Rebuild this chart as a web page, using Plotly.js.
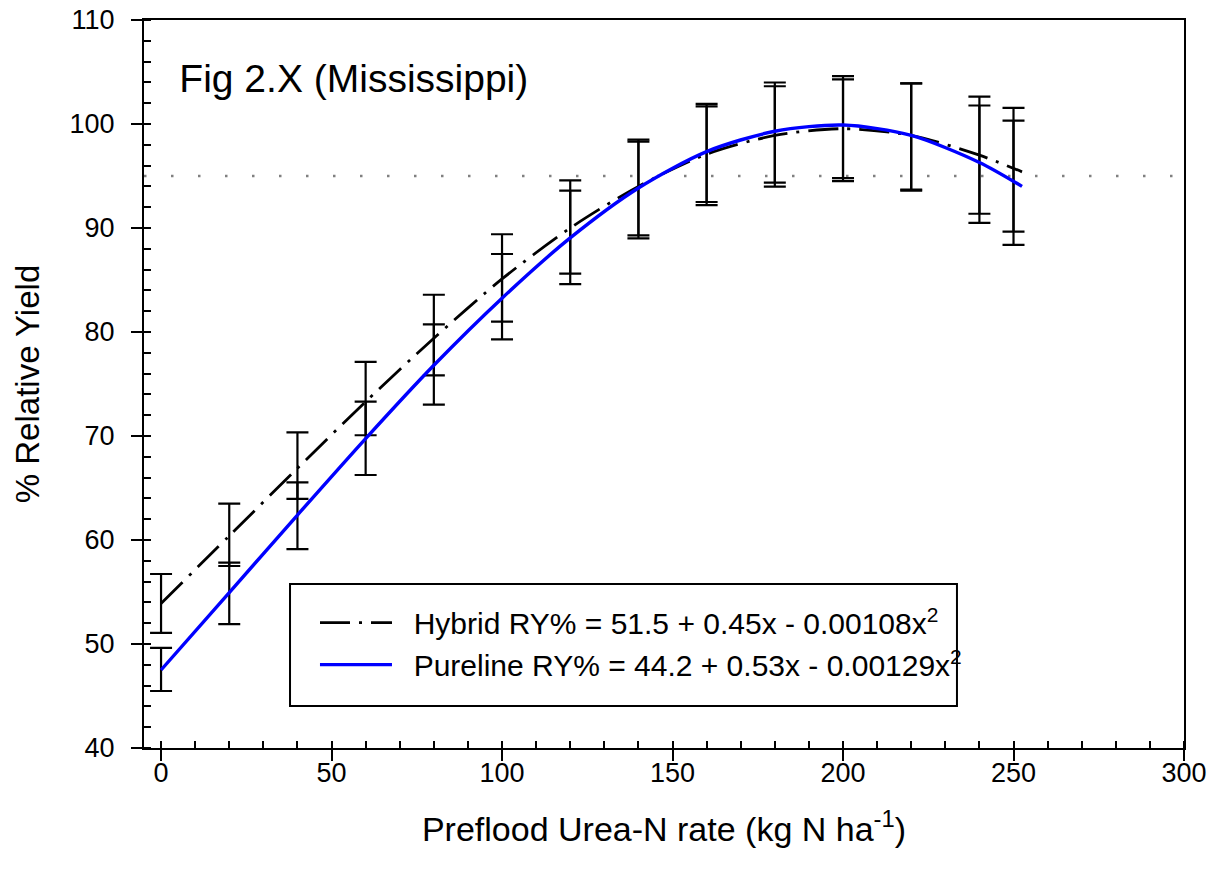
<!DOCTYPE html>
<html>
<head>
<meta charset="utf-8">
<script src="https://cdn.plot.ly/plotly-3.0.1.min.js"></script>
<style>html,body{margin:0;padding:0;background:#fff;}#chart{width:1216px;height:880px;}</style>
</head>
<body>
<div id="chart"></div>
<script>
// N rates with measured means and error bars
const rates = [0, 20, 40, 60, 80, 100, 120, 140, 160, 180, 200, 220, 240, 250];
const hybridMean = [53.9, 60.5, 67.15, 73.6, 79.7, 85.2, 90.1, 93.9, 97.1, 98.8, 99.55, 98.8, 97.0, 95.6];
const hybridErr = [2.83, 3.0, 3.2, 3.53, 3.88, 4.2, 4.48, 4.6, 4.6, 4.83, 4.75, 5.1, 5.63, 5.95];
const purelineMean = [47.55, 54.87, 62.34, 69.78, 76.88, 83.4, 89.1, 93.65, 97.07, 99.18, 99.55, 98.75, 96.14, 94.35];
const purelineErr = [2.07, 2.95, 3.21, 3.53, 3.86, 4.1, 4.5, 4.65, 4.87, 4.81, 5.05, 5.15, 5.64, 5.97];

// Fitted curves
const fitRates = [0, 20, 40, 60, 80, 100, 120, 140, 160, 180, 200, 220, 240, 252.5];
const hybridFit = [53.9, 60.4, 66.9, 73.3, 79.4, 85.1, 90.0, 94.0, 97.1, 98.9, 99.55, 98.9, 97.0, 95.4];
const purelineFit = [47.5, 54.95, 62.4, 69.75, 76.8, 83.25, 89.05, 93.85, 97.35, 99.3, 99.9, 98.9, 96.3, 94.0];

const hybridLabel = '&nbsp;&nbsp;Hybrid RY% = 51.5 + 0.45x - 0.00108x<sup>2</sup>';
const purelineLabel = '&nbsp;&nbsp;Pureline RY% = 44.2 + 0.53x - 0.00129x<sup>2</sup>';
const refLevel = 95;
const titleText = 'Fig 2.X (Mississippi)';
const xTitle = 'Preflood Urea-N rate (kg N ha<sup>-1</sup>)';
const yTitle = '% Relative Yield';

const FONT = 'Liberation Sans, Arial, sans-serif';

function errTrace(y, e) {
  return {
    x: rates, y: y, type: 'scatter', mode: 'markers',
    marker: {size: 1, opacity: 0, color: '#000'},
    error_y: {type: 'data', array: e, visible: true, color: '#000', thickness: 2.2, width: 11},
    showlegend: false, hoverinfo: 'skip'
  };
}

const traces = [
  errTrace(hybridMean, hybridErr),
  errTrace(purelineMean, purelineErr),
  {
    x: fitRates, y: hybridFit, type: 'scatter', mode: 'lines', name: hybridLabel,
    line: {color: '#000', width: 2.8, dash: '30px,9px,3px,9px', shape: 'spline', smoothing: 0.8}
  },
  {
    x: fitRates, y: purelineFit, type: 'scatter', mode: 'lines', name: purelineLabel,
    line: {color: '#0000ff', width: 3.4, shape: 'spline', smoothing: 0.8}
  }
];

const layout = {
  width: 1216, height: 880,
  margin: {l: 144, r: 32, t: 20, b: 132},
  paper_bgcolor: '#fff', plot_bgcolor: '#fff',
  font: {family: FONT, color: '#000'},
  title: {
    text: titleText, font: {family: FONT, size: 39, color: '#000'},
    xref: 'paper', yref: 'paper', x: 0.034, xanchor: 'left', y: 0.92, yanchor: 'middle'
  },
  xaxis: {
    range: [-5, 300], tick0: 0, dtick: 50,
    ticks: 'outside', ticklen: 11, tickwidth: 2, tickcolor: '#000',
    showline: true, linewidth: 2, linecolor: '#000', mirror: true,
    showgrid: false, zeroline: false,
    minor: {ticks: 'inside', ticklen: 7, tickwidth: 2, tickcolor: '#000', tick0: 0, dtick: 10, showgrid: false},
    tickfont: {family: FONT, size: 27, color: '#000'},
    ticklabelstandoff: -11,
    title: {text: xTitle, font: {family: FONT, size: 34, color: '#000'}, standoff: 30}
  },
  yaxis: {
    range: [40, 110], tick0: 40, dtick: 10,
    ticks: 'outside', ticklen: 11, tickwidth: 2, tickcolor: '#000',
    showline: true, linewidth: 2, linecolor: '#000', mirror: true,
    showgrid: false, zeroline: false,
    minor: {ticks: 'inside', ticklen: 7, tickwidth: 2, tickcolor: '#000', tick0: 40, dtick: 2, showgrid: false},
    tickfont: {family: FONT, size: 27, color: '#000'},
    ticklabelstandoff: 11,
    title: {text: yTitle, font: {family: FONT, size: 33, color: '#000'}, standoff: 20}
  },
  xaxis2: {
    overlaying: 'x', anchor: 'y', side: 'bottom', range: [-5, 300], tick0: 0, dtick: 50,
    ticks: 'inside', ticklen: 11, tickwidth: 2, tickcolor: '#000',
    showticklabels: false, showline: false, showgrid: false, zeroline: false
  },
  yaxis2: {
    overlaying: 'y', anchor: 'x', side: 'left', range: [40, 110], tick0: 40, dtick: 10,
    ticks: 'inside', ticklen: 11, tickwidth: 2, tickcolor: '#000',
    showticklabels: false, showline: false, showgrid: false, zeroline: false
  },
  showlegend: true,
  legend: {
    x: 0.1644, y: 0.208, xanchor: 'left', yanchor: 'top',
    bgcolor: 'rgba(0,0,0,0)', borderwidth: 0, itemwidth: 72,
    font: {family: FONT, size: 30, color: '#000'}, tracegroupgap: 0
  },
  shapes: [
    {type: 'line', xref: 'paper', x0: 0, x1: 1, yref: 'y', y0: refLevel, y1: refLevel,
     line: {color: '#808080', width: 2.6, dash: '2.5px,24.5px'}, layer: 'below'},
    {type: 'rect', xref: 'paper', yref: 'paper', x0: 0.1404, x1: 0.7817, y0: 0.0577, y1: 0.2253,
     line: {color: '#000', width: 2}, fillcolor: '#fff', layer: 'above'}
  ]
};

Plotly.newPlot('chart', traces, layout, {displayModeBar: false, staticPlot: true});
</script>
</body>
</html>
